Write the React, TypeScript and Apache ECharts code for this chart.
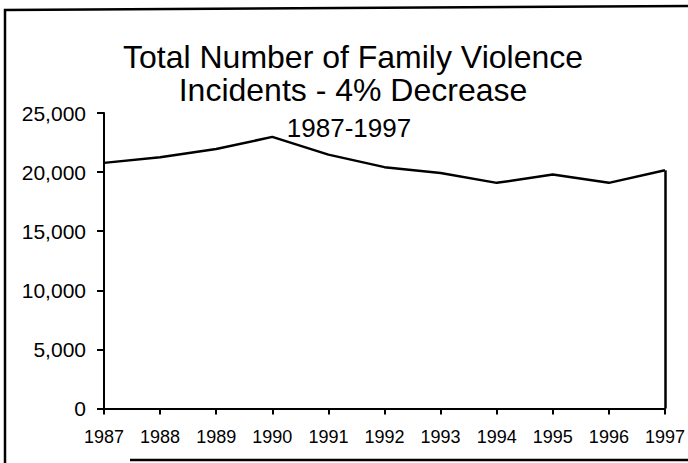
import React, { useEffect, useRef } from "react";
import * as echarts from "echarts";

const years = ["1987", "1988", "1989", "1990", "1991", "1992", "1993", "1994", "1995", "1996", "1997"];
const incidents = [20780, 21250, 21950, 22980, 21480, 20420, 19930, 19090, 19790, 19090, 20150];
const titleLines = ["Total Number of Family Violence", "Incidents - 4% Decrease"];
const subtitleText = "1987-1997";
const yTicks = { min: 0, max: 25000, interval: 5000 };

const FONT = "'Liberation Sans', Arial, Helvetica, sans-serif";

export default function App() {
  const ref = useRef<HTMLDivElement>(null);
  useEffect(() => {
    if (!ref.current) return;
    const chart = echarts.init(ref.current, null, { renderer: "svg" });
    const last = years.length - 1;
    chart.setOption({
      animation: false,
      backgroundColor: "#ffffff",
      title: [
        {
          text: titleLines.join("\n"),
          left: 353,
          top: 40,
          padding: 0,
          textAlign: "center",
          textStyle: { fontFamily: FONT, fontSize: 32, fontWeight: "normal", color: "#000", lineHeight: 33 },
        },
        {
          text: subtitleText,
          left: 349,
          top: 115,
          padding: 0,
          textAlign: "center",
          textStyle: { fontFamily: FONT, fontSize: 26, fontWeight: "normal", color: "#000" },
        },
      ],
      grid: { left: 104, right: 22, top: 113, bottom: 54.5, containLabel: false },
      xAxis: {
        type: "category",
        data: years,
        boundaryGap: false,
        axisLine: { show: true, lineStyle: { color: "#000", width: 2 } },
        axisTick: { show: true, alignWithLabel: true, length: 6, lineStyle: { color: "#000", width: 2 } },
        axisLabel: { color: "#000", fontFamily: FONT, fontSize: 18, margin: 19, interval: 0 },
        splitLine: { show: false },
      },
      yAxis: {
        type: "value",
        min: yTicks.min,
        max: yTicks.max,
        interval: yTicks.interval,
        axisLine: { show: true, lineStyle: { color: "#000", width: 2 } },
        axisTick: { show: true, length: 7, lineStyle: { color: "#000", width: 2 } },
        axisLabel: {
          color: "#000",
          fontFamily: FONT,
          fontSize: 21,
          margin: 18,
          formatter: (v: number) => v.toLocaleString("en-US"),
        },
        splitLine: { show: false },
      },
      series: [
        {
          type: "line",
          data: incidents,
          symbol: "none",
          lineStyle: { color: "#000", width: 2.5 },
          markLine: {
            silent: true,
            symbol: "none",
            label: { show: false },
            lineStyle: { color: "#000", width: 2.5, type: "solid" },
            data: [
              [
                { coord: [years[last], 0] },
                { coord: [years[last], incidents[last]] },
              ],
            ],
          },
        },
      ],
      graphic: [
        {
          type: "polyline",
          silent: true,
          shape: { points: [[5, 463], [5, 10], [688, 6]] },
          style: { stroke: "#000", lineWidth: 2.5, fill: null },
        },
        {
          type: "line",
          silent: true,
          shape: { x1: 130, y1: 460, x2: 688, y2: 460 },
          style: { stroke: "#000", lineWidth: 2.5 },
        },
      ],
    });
    return () => chart.dispose();
  }, []);
  return (
    <div
      ref={ref}
      style={{ position: "fixed", left: 0, top: 0, width: 688, height: 463 }}
    />
  );
}
